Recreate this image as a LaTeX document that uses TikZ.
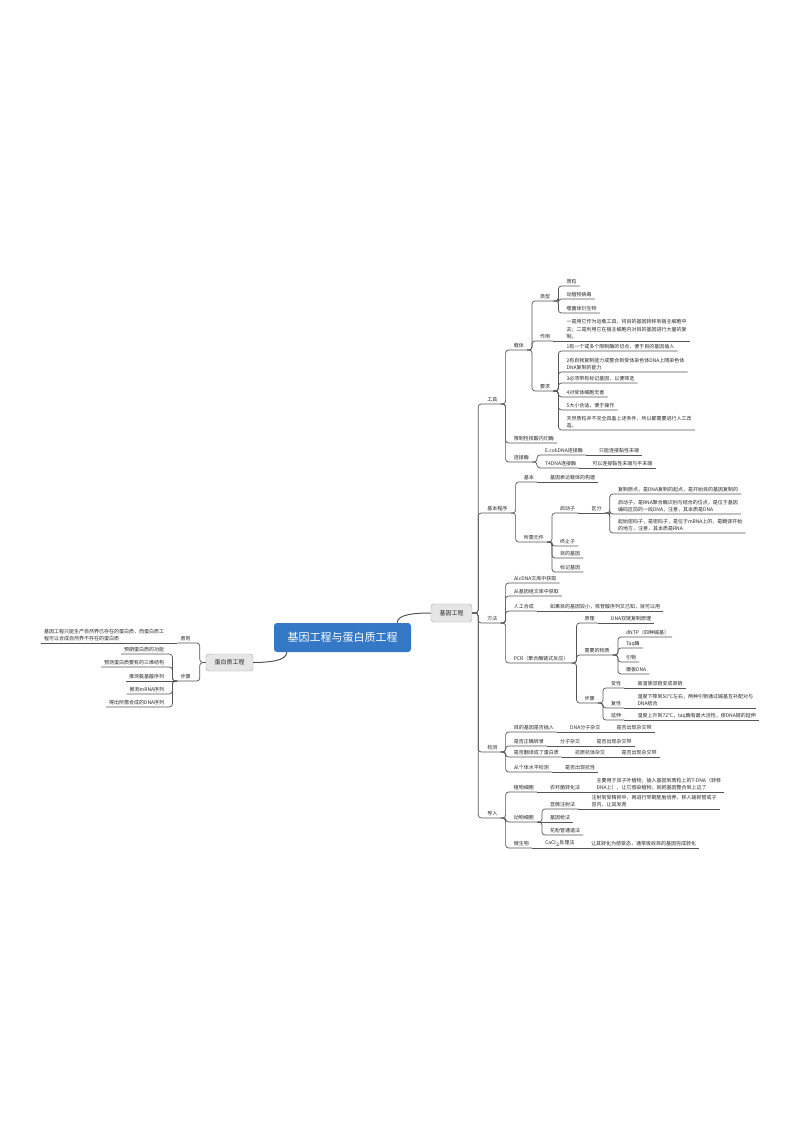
\documentclass[tikz,border=0pt]{standalone}
\usepackage{fontspec}
\setmainfont{Noto Sans CJK SC}
\usetikzlibrary{calc}
\definecolor{rootblue}{HTML}{3478C6}
\definecolor{topicgray}{HTML}{E6E6E6}
\definecolor{linegray}{HTML}{555555}
\definecolor{textgray}{HTML}{262626}

\begin{document}
\begin{tikzpicture}[x=1pt, y=-1pt,
  root/.style={fill=rootblue, text=white, rounded corners=3pt,
    minimum width=137pt, minimum height=29pt, inner sep=0pt,
    font=\fontsize{11}{13}\selectfont},
  topic/.style={draw=gray!70, fill=topicgray, text=textgray, rounded corners=3pt,
    minimum width=41pt, minimum height=18pt, inner sep=0pt,
    font=\fontsize{6}{7}\selectfont},
  lbl/.style={anchor=south west, text=textgray, align=left,
    inner xsep=3pt, inner ysep=1.5pt, font=\fontsize{5}{7.5}\selectfont},
  lbll/.style={lbl, anchor=south east},
  ln/.style={draw=linegray, line width=0.7pt, rounded corners=3pt},
  curve/.style={draw=linegray, line width=1pt}
]
\useasboundingbox (0,0) rectangle (800,1131);

% --- Zentrum ---
\node[root] (root) at (342.5,637.5) {基因工程与蛋白质工程};
\node[topic] (gj) at (451.5,613) {基因工程};
\node[topic, minimum width=47pt, minimum height=17pt] (dbz) at (229.5,662.5) {蛋白质工程};
\draw[curve] ([xshift=-14pt]root.north east) .. controls +(0,-9) and +(-14,0) .. (gj.west);
\draw[curve] ([xshift=13pt]root.south west) .. controls +(0,9) and +(14,0) .. (dbz.east);

% --- 工具 ---
\node[lbl] (gongju) at ($(gj.east |- 0,404)+(12,0)$) {工具};
\node[lbl] (zaiti) at ($(gongju.south east |- 0,350)+(10,0)$) {载体};
\node[lbl] (leixing) at ($(zaiti.south east |- 0,301)+(10,0)$) {类型};
\node[lbl] (zhili) at ($(leixing.south east |- 0,286)+(10,0)$) {质粒};
\node[lbl] (bingdu) at ($(leixing.south east |- 0,299)+(10,0)$) {动植物病毒};
\node[lbl] (sjt) at ($(leixing.south east |- 0,313)+(10,0)$) {噬菌体衍生物};
\node[lbl] (zuoyong) at ($(zaiti.south east |- 0,341)+(10,0)$) {作用};
\node[lbl] (zy1) at ([xshift=10pt]zuoyong.south east) {一是用它作为运载工具，将目的基因转移到宿主细胞中\\去；二是利用它在宿主细胞内对目的基因进行大量的复\\制。};
\node[lbl] (yaoqiu) at ($(zaiti.south east |- 0,391)+(10,0)$) {要求};
\node[lbl] (yq1) at ($(yaoqiu.south east |- 0,351)+(10,0)$) {1有一个或多个限制酶的切点，便于目的基因插入};
\node[lbl] (yq2) at ($(yaoqiu.south east |- 0,372)+(10,0)$) {2有自我复制能力或整合到受体染色体DNA上随染色体\\DNA复制的能力};
\node[lbl] (yq3) at ($(yaoqiu.south east |- 0,383)+(10,0)$) {3必须带有标记基因，以便筛选};
\node[lbl] (yq4) at ($(yaoqiu.south east |- 0,397)+(10,0)$) {4对受体细胞无害};
\node[lbl] (yq5) at ($(yaoqiu.south east |- 0,410)+(10,0)$) {5大小合适，便于操作};
\node[lbl] (yq6) at ($(yaoqiu.south east |- 0,430)+(10,0)$) {天然质粒并不完全具备上述条件，所以都需要进行人工改\\造。};
\node[lbl] (xianzhi) at ($(gongju.south east |- 0,443)+(10,0)$) {限制性核酸内切酶};
\node[lbl] (lianjie) at ($(gongju.south east |- 0,462)+(10,0)$) {连接酶};
\node[lbl] (ecoli) at ($(lianjie.south east |- 0,455)+(10,0)$) {E.coliDNA连接酶};
\node[lbl] (ecoli2) at ([xshift=10pt]ecoli.south east) {只能连接黏性末端};
\node[lbl] (t4) at ($(lianjie.south east |- 0,468)+(10,0)$) {T4DNA连接酶};
\node[lbl] (t42) at ([xshift=10pt]t4.south east) {可以连接黏性末端与平末端};

\foreach \c in {zaiti,xianzhi,lianjie} \draw[ln] (gongju.south east) -- ++(5,0) |- (\c.south east);
\foreach \c in {leixing,zuoyong,yaoqiu} \draw[ln] (zaiti.south east) -- ++(5,0) |- (\c.south east);
\foreach \c in {zhili,bingdu,sjt} \draw[ln] (leixing.south east) -- ++(5,0) |- (\c.south east);
\foreach \c in {yq1,yq2,yq3,yq4,yq5,yq6} \draw[ln] (yaoqiu.south east) -- ++(5,0) |- (\c.south east);
\foreach \c in {ecoli,t4} \draw[ln] (lianjie.south east) -- ++(5,0) |- (\c.south east);
\draw[ln] (zuoyong.south east) -- (zy1.south east);
\draw[ln] (ecoli.south east) -- (ecoli2.south east);
\draw[ln] (t4.south east) -- (t42.south east);

% --- 基本程序 ---
\node[lbl] (jbcx) at ($(gj.east |- 0,513)+(12,0)$) {基本程序};
\node[lbl] (jiben) at ($(jbcx.south east |- 0,482)+(10,0)$) {基本};
\node[lbl] (jiben2) at ([xshift=10pt]jiben.south east) {基因表达载体的构建};
\node[lbl] (suoxu) at ($(jbcx.south east |- 0,542)+(10,0)$) {所需元件};
\node[lbl] (qdz) at ($(suoxu.south east |- 0,513)+(10,0)$) {启动子};
\node[lbl] (qufen) at ([xshift=10pt]qdz.south east) {区分};
\node[lbl] (qf1) at ($(qufen.south east |- 0,494)+(10,0)$) {复制原点，是DNA复制的起点，是开始目的基因复制的};
\node[lbl] (qf2) at ($(qufen.south east |- 0,514)+(10,0)$) {启动子，是RNA聚合酶识别与结合的位点，是位于基因\\编码区前的一段DNA，注意，其本质是DNA};
\node[lbl] (qf3) at ($(qufen.south east |- 0,533)+(10,0)$) {起始密码子，是密码子，是位于mRNA上的，是翻译开始\\的地方，注意，其本质是RNA};
\node[lbl] (zzz) at ($(suoxu.south east |- 0,546)+(10,0)$) {终止子};
\node[lbl] (mdjy) at ($(suoxu.south east |- 0,558)+(10,0)$) {目的基因};
\node[lbl] (bjjy) at ($(suoxu.south east |- 0,572)+(10,0)$) {标记基因};

\foreach \c in {jiben,suoxu} \draw[ln] (jbcx.south east) -- ++(5,0) |- (\c.south east);
\foreach \c in {qdz,zzz,mdjy,bjjy} \draw[ln] (suoxu.south east) -- ++(5,0) |- (\c.south east);
\foreach \c in {qf1,qf2,qf3} \draw[ln] (qufen.south east) -- ++(5,0) |- (\c.south east);
\draw[ln] (jiben.south east) -- (jiben2.south east);
\draw[ln] (qdz.south east) -- (qufen.south east);

% --- 方法 ---
\node[lbl] (fangfa) at ($(gj.east |- 0,623)+(12,0)$) {方法};
\node[lbl] (cdna) at ($(fangfa.south east |- 0,583)+(10,0)$) {从cDNA文库中获取};
\node[lbl] (jyz) at ($(fangfa.south east |- 0,596)+(10,0)$) {从基因组文库中获取};
\node[lbl] (rghc) at ($(fangfa.south east |- 0,611)+(10,0)$) {人工合成};
\node[lbl] (rghc2) at ([xshift=10pt]rghc.south east) {如果目的基因较小，核苷酸序列又已知，就可以用};
\node[lbl] (pcr) at ($(fangfa.south east |- 0,663)+(10,0)$) {PCR（聚合酶链式反应）};
\node[lbl] (yuanli) at ($(pcr.south east |- 0,623)+(10,0)$) {原理};
\node[lbl] (yuanli2) at ([xshift=10pt]yuanli.south east) {DNA双链复制原理};
\node[lbl] (wuzhi) at ($(pcr.south east |- 0,655)+(10,0)$) {需要的物质};
\node[lbl] (dntp) at ($(wuzhi.south east |- 0,637)+(10,0)$) {dNTP（四种碱基）};
\node[lbl] (taq) at ($(wuzhi.south east |- 0,648)+(10,0)$) {Taq酶};
\node[lbl] (yinwu) at ($(wuzhi.south east |- 0,662)+(10,0)$) {引物};
\node[lbl] (muban) at ($(wuzhi.south east |- 0,674)+(10,0)$) {模板DNA};
\node[lbl] (buzhou) at ($(pcr.south east |- 0,703)+(10,0)$) {步骤};
\node[lbl] (bianxing) at ($(buzhou.south east |- 0,688)+(10,0)$) {变性};
\node[lbl] (bx2) at ([xshift=10pt]bianxing.south east) {高温使双链变成单链};
\node[lbl] (fuxing) at ($(buzhou.south east |- 0,708)+(10,0)$) {复性};
\node[lbl] (fx2) at ([xshift=10pt]fuxing.south east) {温度下降到50℃左右，两种引物通过碱基互补配对与\\DNA结合};
\node[lbl] (yanshen) at ($(buzhou.south east |- 0,720)+(10,0)$) {延伸};
\node[lbl] (ys2) at ([xshift=10pt]yanshen.south east) {温度上升到72℃，taq酶有最大活性，使DNA链的延伸};

\foreach \c in {cdna,jyz,rghc,pcr} \draw[ln] (fangfa.south east) -- ++(5,0) |- (\c.south east);
\foreach \c in {yuanli,wuzhi,buzhou} \draw[ln] (pcr.south east) -- ++(5,0) |- (\c.south east);
\foreach \c in {dntp,taq,yinwu,muban} \draw[ln] (wuzhi.south east) -- ++(5,0) |- (\c.south east);
\foreach \c in {bianxing,fuxing,yanshen} \draw[ln] (buzhou.south east) -- ++(5,0) |- (\c.south east);
\draw[ln] (rghc.south east) -- (rghc2.south east);
\draw[ln] (yuanli.south east) -- (yuanli2.south east);
\draw[ln] (bianxing.south east) -- (bx2.south east);
\draw[ln] (fuxing.south east) -- (fx2.south east);
\draw[ln] (yanshen.south east) -- (ys2.south east);

% --- 检测 ---
\node[lbl] (jiance) at ($(gj.east |- 0,752)+(12,0)$) {检测};
\node[lbl] (jc1) at ($(jiance.south east |- 0,732)+(10,0)$) {目的基因是否插入};
\node[lbl] (jc1b) at ([xshift=10pt]jc1.south east) {DNA分子杂交};
\node[lbl] (jc1c) at ([xshift=10pt]jc1b.south east) {是否出现杂交带};
\node[lbl] (jc2) at ($(jiance.south east |- 0,746)+(10,0)$) {是否正确转录};
\node[lbl] (jc2b) at ([xshift=10pt]jc2.south east) {分子杂交};
\node[lbl] (jc2c) at ([xshift=10pt]jc2b.south east) {是否出现杂交带};
\node[lbl] (jc3) at ($(jiance.south east |- 0,757)+(10,0)$) {是否翻译成了蛋白质};
\node[lbl] (jc3b) at ([xshift=10pt]jc3.south east) {抗原抗体杂交};
\node[lbl] (jc3c) at ([xshift=10pt]jc3b.south east) {是否出现杂交带};
\node[lbl] (jc4) at ($(jiance.south east |- 0,772)+(10,0)$) {从个体水平检测};
\node[lbl] (jc4b) at ([xshift=10pt]jc4.south east) {是否出现抗性};

\foreach \c in {jc1,jc2,jc3,jc4} \draw[ln] (jiance.south east) -- ++(5,0) |- (\c.south east);
\foreach \a/\b in {jc1/jc1b,jc1b/jc1c,jc2/jc2b,jc2b/jc2c,jc3/jc3b,jc3b/jc3c,jc4/jc4b}
  \draw[ln] (\a.south east) -- (\b.south east);

% --- 导入 ---
\node[lbl] (daoru) at ($(gj.east |- 0,818)+(12,0)$) {导入};
\node[lbl] (zhiwu) at ($(daoru.south east |- 0,792)+(10,0)$) {植物细胞};
\node[lbl] (zw2) at ([xshift=10pt]zhiwu.south east) {农杆菌转化法};
\node[lbl] (zw3) at ([xshift=10pt]zw2.south east) {主要用于双子叶植物，插入基因到质粒上的T-DNA（转移\\DNA上），让它感染植物，就把基因整合到上边了};
\node[lbl] (dongwu) at ($(daoru.south east |- 0,822)+(10,0)$) {动物细胞};
\node[lbl] (xwzs) at ($(dongwu.south east |- 0,809)+(10,0)$) {显微注射法};
\node[lbl] (xw2) at ([xshift=10pt]xwzs.south east) {注射到受精卵中，再进行早期胚胎培养，移入输卵管或子\\宫内，让其发育};
\node[lbl] (jyq) at ($(dongwu.south east |- 0,822)+(10,0)$) {基因枪法};
\node[lbl] (hfg) at ($(dongwu.south east |- 0,835)+(10,0)$) {花粉管通道法};
\node[lbl] (wsw) at ($(daoru.south east |- 0,848)+(10,0)$) {微生物};
\node[lbl] (ws2) at ([xshift=10pt]wsw.south east) {CaCl$_2$处理法};
\node[lbl] (ws3) at ([xshift=10pt]ws2.south east) {让其转化为感受态，通常吸收目的基因完成转化};

\foreach \c in {zhiwu,dongwu,wsw} \draw[ln] (daoru.south east) -- ++(5,0) |- (\c.south east);
\foreach \c in {xwzs,hfg} \draw[ln] (dongwu.south east) -- ++(5,0) |- (\c.south east);
\foreach \a/\b in {zhiwu/zw2,zw2/zw3,dongwu/jyq,xwzs/xw2,wsw/ws2,ws2/ws3}
  \draw[ln] (\a.south east) -- (\b.south east);

\foreach \c in {gongju,jbcx,fangfa,jiance,daoru} \draw[ln] (gj.east) -- ++(6,0) |- (\c.south east);

% --- 蛋白质工程 ---
\node[lbll] (yuanze) at ($(dbz.west |- 0,643)+(-12,0)$) {原则};
\node[lbll] (yz2) at ([xshift=-10pt]yuanze.south west) {基因工程只能生产自然界已存在的蛋白质，而蛋白质工\\程可以合成自然界不存在的蛋白质};
\node[lbll] (buzhou2) at ($(dbz.west |- 0,681)+(-12,0)$) {步骤};
\node[lbll] (s1) at ($(buzhou2.south west |- 0,654)+(-10,0)$) {预期蛋白质的功能};
\node[lbll] (s2) at ($(buzhou2.south west |- 0,667)+(-10,0)$) {预测蛋白质要有的三维结构};
\node[lbll] (s3) at ($(buzhou2.south west |- 0,681)+(-10,0)$) {推测氨基酸序列};
\node[lbll] (s4) at ($(buzhou2.south west |- 0,694)+(-10,0)$) {推测mRNA序列};
\node[lbll] (s5) at ($(buzhou2.south west |- 0,707)+(-10,0)$) {得出所需合成的DNA序列};

\foreach \c in {yuanze,buzhou2} \draw[ln] (dbz.west) -- ++(-6,0) |- (\c.south west);
\foreach \c in {s1,s2,s4,s5} \draw[ln] (buzhou2.south west) -- ++(-5,0) |- (\c.south west);
\draw[ln] (buzhou2.south west) -- (s3.south west);
\draw[ln] (yuanze.south west) -- (yz2.south west);

\end{tikzpicture}
\end{document}
